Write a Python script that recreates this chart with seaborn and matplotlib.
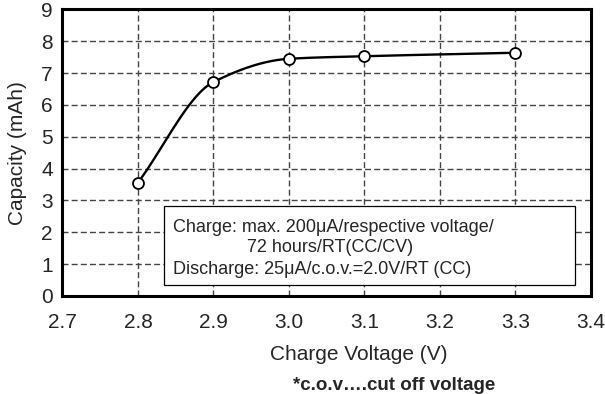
import numpy as np
import pandas as pd
import seaborn as sns
import matplotlib
matplotlib.use("Agg")
import matplotlib.pyplot as plt
from matplotlib.patches import Rectangle

voltage = [2.8, 2.9, 3.0, 3.1, 3.3]
capacity = [3.56, 6.72, 7.45, 7.53, 7.64]
x_ticks = [2.7, 2.8, 2.9, 3.0, 3.1, 3.2, 3.3, 3.4]
y_ticks = [0, 1, 2, 3, 4, 5, 6, 7, 8, 9]
note_lines = ["Charge: max. 200\u03bcA/respective voltage/",
              "72 hours/RT(CC/CV)",
              "Discharge: 25\u03bcA/c.o.v.=2.0V/RT (CC)"]


def pchip(x, y, xs):
    # monotone cubic curve through the points (Fritsch-Carlson)
    x = np.asarray(x, float)
    y = np.asarray(y, float)
    h = np.diff(x)
    d = np.diff(y) / h
    m = np.zeros_like(y)
    m[0], m[-1] = d[0], d[-1]
    for i in range(1, len(x) - 1):
        if d[i - 1] * d[i] > 0:
            w1 = 2 * h[i] + h[i - 1]
            w2 = h[i] + 2 * h[i - 1]
            m[i] = (w1 + w2) / (w1 / d[i - 1] + w2 / d[i])
    out = []
    for xv in xs:
        i = min(np.searchsorted(x, xv, side="right") - 1, len(x) - 2)
        t = (xv - x[i]) / h[i]
        h00 = 2 * t**3 - 3 * t**2 + 1
        h10 = t**3 - 2 * t**2 + t
        h01 = -2 * t**3 + 3 * t**2
        h11 = t**3 - t**2
        out.append(h00 * y[i] + h10 * h[i] * m[i] + h01 * y[i + 1] + h11 * h[i] * m[i + 1])
    return np.array(out)


sns.set_style("white")
plt.rcParams["font.family"] = ["Liberation Sans", "DejaVu Sans"]

df = pd.DataFrame({"V": voltage, "C": capacity})
xs = np.linspace(voltage[0], voltage[-1], 300)
curve = pd.DataFrame({"V": xs, "C": pchip(voltage, capacity, xs)})

fig = plt.figure(figsize=(6.05, 3.94), dpi=100)
ax = fig.add_axes([0.1033, 0.249, 0.8735, 0.727])

for v in x_ticks[1:-1]:
    ax.axvline(v, color="#444444", lw=1, ls=(0, (4.3, 2.3)), zorder=1)
for c in y_ticks[1:-1]:
    ax.axhline(c, color="#444444", lw=1, ls=(0, (4.3, 2.3)), zorder=1)

sns.lineplot(data=curve, x="V", y="C", color="black", lw=1.7, ax=ax, zorder=3)
sns.scatterplot(data=df, x="V", y="C", marker="o", s=62, facecolor="white",
                edgecolor="black", linewidth=1.3, ax=ax, zorder=4)

ax.set_xlim(2.7, 3.4)
ax.set_ylim(0, 9)
ax.set_xticks(x_ticks)
ax.set_xticklabels([f"{v:.1f}" for v in x_ticks])
ax.set_yticks(y_ticks)
ax.tick_params(axis="x", direction="in", length=4, width=1, labelsize=15, pad=12)
ax.tick_params(axis="y", length=0, labelsize=15, pad=7)
for sp in ax.spines.values():
    sp.set_linewidth(2.2)
    sp.set_color("black")

ax.set_xlabel("Charge Voltage (V)", fontsize=15)
ax.xaxis.label.set_va("baseline")
ax.xaxis.set_label_coords(0.561, -0.223)
ax.set_ylabel("Capacity (mAh)", fontsize=15)
ax.yaxis.label.set_va("center")
ax.yaxis.set_label_coords(-0.086, 0.5)

# note box
ax.add_patch(Rectangle((2.835, 0.345), 0.544, 2.475, fc="white", ec="black",
                       lw=0.9, zorder=5))
ax.text(2.846, 2.00, note_lines[0], fontsize=13, va="baseline", zorder=6)
ax.text(2.944, 1.39, note_lines[1], fontsize=13, va="baseline", zorder=6)
ax.text(2.846, 0.68, note_lines[2], fontsize=13, va="baseline", zorder=6)

fig.text(0.651, 0.009, "*c.o.v\u2026.cut off voltage", fontsize=13.5, ha="center",
         va="baseline", fontweight="bold")

fig.savefig("out.png", dpi=100)
